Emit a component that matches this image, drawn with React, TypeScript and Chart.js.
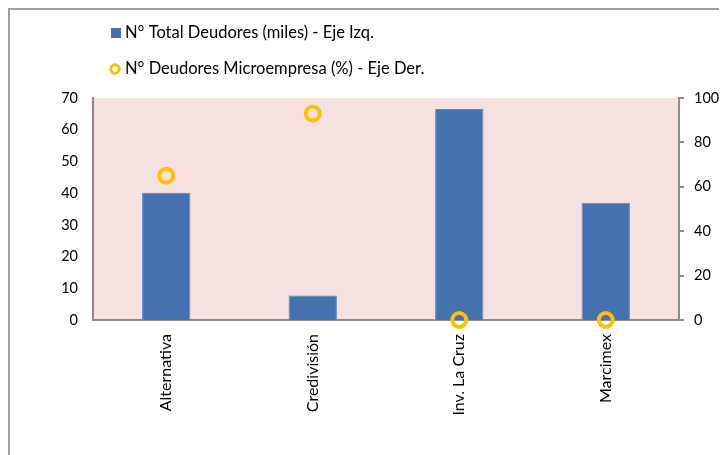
import React, { useEffect, useRef } from "react";
import { Chart, registerables } from "chart.js";

Chart.register(...registerables);

const categories = ["Alternativa", "Credivisión", "Inv. La Cruz", "Marcimex"];
const totalDeudores = [40.1, 7.7, 66.5, 37.0];
const microempresaPct = [65, 93, 0, 0];
const leftTicks = [0, 10, 20, 30, 40, 50, 60, 70];
const rightTicks = [0, 20, 40, 60, 80, 100];
const legendLabels = [
  "N° Total Deudores (miles) - Eje Izq.",
  "N° Deudores Microempresa (%) - Eje Der.",
];

const FONT = "Lato";
const BAR = "#4472AE";
const RING = "#FFC000";
const PINK = "#F5E1E0";
const AXIS = "#8C8C8C";

export default function App() {
  const ref = useRef<HTMLCanvasElement | null>(null);

  useEffect(() => {
    if (!ref.current) return;
    const bgPlugin = {
      id: "bg",
      beforeDraw(chart: any) {
        const { ctx, chartArea } = chart;
        ctx.save();
        ctx.fillStyle = PINK;
        ctx.fillRect(chartArea.left, chartArea.top, chartArea.right - chartArea.left, chartArea.bottom - chartArea.top);
        ctx.restore();
      },
    };
    const legendPlugin = {
      id: "customLegend",
      afterDraw(chart: any) {
        const ctx = chart.ctx;
        ctx.save();
        ctx.font = `16.5px ${FONT}`;
        ctx.textBaseline = "middle";
        ctx.textAlign = "left";
        // row 1
        ctx.fillStyle = BAR;
        ctx.fillRect(101, 18, 10, 10);
        ctx.fillStyle = "#000";
        ctx.fillText(legendLabels[0], 115, 23);
        // row 2
        ctx.beginPath();
        ctx.arc(105, 59, 4.2, 0, Math.PI * 2);
        ctx.strokeStyle = RING;
        ctx.lineWidth = 3;
        ctx.stroke();
        ctx.fillText(legendLabels[1], 115, 59);
        ctx.restore();
      },
    };

    const chart = new Chart(ref.current, {
      type: "bar",
      data: {
        labels: categories,
        datasets: [
          {
            type: "line",
            label: legendLabels[1],
            data: microempresaPct,
            yAxisID: "y1",
            showLine: false,
            pointStyle: "circle",
            pointRadius: 7,
            pointHoverRadius: 7,
            pointBorderWidth: 4,
            pointBackgroundColor: "rgba(0,0,0,0)",
            pointBorderColor: RING,
            borderColor: RING,
            clip: false,
            order: 0,
          } as any,
          {
            type: "bar",
            label: legendLabels[0],
            data: totalDeudores,
            yAxisID: "y",
            backgroundColor: BAR,
            borderColor: "#5F88C0",
            borderWidth: 1,
            barPercentage: 0.33,
            categoryPercentage: 1,
            order: 1,
          },
        ],
      },
      options: {
        animation: false,
        responsive: false,
        layout: { padding: { top: 88, left: 0, right: 0, bottom: 0 } },
        plugins: { legend: { display: false }, tooltip: { enabled: false } },
        scales: {
          x: {
            z: 1,
            grid: { display: false, drawTicks: false },
            border: { display: true, color: AXIS, width: 2 },
            ticks: {
              minRotation: 90,
              maxRotation: 90,
              padding: 14,
              color: "#000",
              font: { family: FONT, size: 16 },
            },
            afterFit(scale: any) {
              scale.height = 135;
            },
          },
          y: {
            position: "left",
            min: 0,
            max: 70,
            afterBuildTicks(scale: any) {
              scale.ticks = leftTicks.map((v) => ({ value: v }));
            },
            grid: { display: false, drawTicks: false },
            border: { display: true, color: AXIS, width: 2 },
            ticks: { padding: 15, color: "#000", font: { family: FONT, size: 14.5 } },
            afterFit(scale: any) {
              scale.width = 83;
            },
          },
          y1: {
            position: "right",
            min: 0,
            max: 100,
            afterBuildTicks(scale: any) {
              scale.ticks = rightTicks.map((v) => ({ value: v }));
            },
            grid: { display: true, drawOnChartArea: false, drawTicks: true, tickLength: 5, color: AXIS, lineWidth: 2 },
            border: { display: true, color: AXIS, width: 2 },
            ticks: { padding: 10, color: "#000", font: { family: FONT, size: 14.5 } },
            afterFit(scale: any) {
              scale.width = 48;
            },
          },
        },
      },
      plugins: [bgPlugin, legendPlugin],
    });
    return () => chart.destroy();
  }, []);

  return (
    <div
      style={{
        width: 717,
        height: 445,
        borderTop: "2px solid #A0A0A0",
        borderLeft: "2px solid #A0A0A0",
        background: "#fff",
      }}
    >
      <canvas ref={ref} width={717} height={445} style={{ display: "block" }} />
    </div>
  );
}
